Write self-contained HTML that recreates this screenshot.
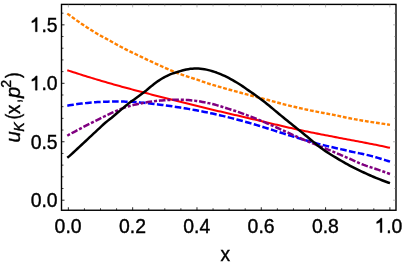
<!DOCTYPE html>
<html><head><meta charset="utf-8"><style>
html,body{margin:0;padding:0;background:#fff;}
svg{display:block;will-change:transform;font-family:"Liberation Sans",sans-serif;}
</style></head><body>
<svg width="404" height="266" viewBox="0 0 404 266">
<rect width="404" height="266" fill="#fff"/>
<g fill="none" stroke-linecap="butt" stroke-linejoin="round">
<path d="M67.29,13.63 L69.31,15.00 L71.32,16.50 L73.34,17.98 L75.36,19.45 L77.37,20.89 L79.39,22.30 L81.41,23.69 L83.42,25.05 L85.44,26.38 L87.46,27.69 L89.48,29.00 L91.49,30.29 L93.51,31.56 L95.53,32.80 L97.54,34.00 L99.56,35.15 L101.58,36.26 L103.59,37.35 L105.61,38.42 L107.63,39.50 L109.64,40.60 L111.66,41.72 L113.68,42.85 L115.70,43.97 L117.71,45.08 L119.73,46.18 L121.75,47.27 L123.76,48.35 L125.78,49.38 L127.80,50.39 L129.81,51.37 L131.83,52.34 L133.85,53.31 L135.86,54.28 L137.88,55.26 L139.90,56.23 L141.92,57.20 L143.93,58.15 L145.95,59.11 L147.97,60.06 L149.98,61.01 L152.00,61.95 L154.02,62.88 L156.03,63.80 L158.05,64.71 L160.07,65.62 L162.08,66.51 L164.10,67.41 L166.12,68.29 L168.14,69.17 L170.15,70.03 L172.17,70.88 L174.19,71.72 L176.20,72.53 L178.22,73.33 L180.24,74.09 L182.25,74.82 L184.27,75.51 L186.29,76.17 L188.30,76.82 L190.32,77.46 L192.34,78.10 L194.35,78.75 L196.37,79.42 L198.39,80.11 L200.41,80.81 L202.42,81.51 L204.44,82.22 L206.46,82.91 L208.47,83.59 L210.49,84.24 L212.51,84.86 L214.52,85.46 L216.54,86.05 L218.56,86.63 L220.57,87.21 L222.59,87.78 L224.61,88.35 L226.63,88.91 L228.64,89.47 L230.66,90.03 L232.68,90.58 L234.69,91.13 L236.71,91.68 L238.73,92.23 L240.74,92.78 L242.76,93.33 L244.78,93.87 L246.79,94.42 L248.81,94.96 L250.83,95.49 L252.85,96.00 L254.86,96.52 L256.88,97.02 L258.90,97.54 L260.91,98.06 L262.93,98.59 L264.95,99.13 L266.96,99.68 L268.98,100.24 L271.00,100.80 L273.01,101.36 L275.03,101.91 L277.05,102.47 L279.07,103.02 L281.08,103.56 L283.10,104.09 L285.12,104.61 L287.13,105.11 L289.15,105.61 L291.17,106.09 L293.18,106.57 L295.20,107.04 L297.22,107.51 L299.23,107.98 L301.25,108.44 L303.27,108.89 L305.29,109.32 L307.30,109.75 L309.32,110.18 L311.34,110.59 L313.35,111.00 L315.37,111.41 L317.39,111.81 L319.40,112.20 L321.42,112.58 L323.44,112.96 L325.45,113.34 L327.47,113.71 L329.49,114.08 L331.51,114.45 L333.52,114.84 L335.54,115.26 L337.56,115.69 L339.57,116.14 L341.59,116.59 L343.61,117.04 L345.62,117.47 L347.64,117.88 L349.66,118.26 L351.67,118.65 L353.69,119.03 L355.71,119.40 L357.73,119.77 L359.74,120.12 L361.76,120.47 L363.78,120.80 L365.79,121.12 L367.81,121.44 L369.83,121.76 L371.84,122.07 L373.86,122.39 L375.88,122.70 L377.89,123.01 L379.91,123.32 L381.93,123.63 L383.95,123.93 L385.96,124.23 L387.98,124.53 L390.00,124.82" stroke="#ff8000" stroke-width="2.4" stroke-dasharray="3.8 1.8"/>
<path d="M67.29,70.21 L69.31,70.87 L71.32,71.54 L73.34,72.19 L75.36,72.84 L77.37,73.49 L79.39,74.13 L81.41,74.77 L83.42,75.40 L85.44,76.03 L87.46,76.66 L89.48,77.28 L91.49,77.89 L93.51,78.50 L95.53,79.11 L97.54,79.71 L99.56,80.31 L101.58,80.91 L103.59,81.50 L105.61,82.08 L107.63,82.67 L109.64,83.24 L111.66,83.82 L113.68,84.39 L115.70,84.96 L117.71,85.52 L119.73,86.08 L121.75,86.64 L123.76,87.20 L125.78,87.75 L127.80,88.29 L129.81,88.84 L131.83,89.38 L133.85,89.92 L135.86,90.46 L137.88,90.99 L139.90,91.52 L141.92,92.05 L143.93,92.57 L145.95,93.09 L147.97,93.61 L149.98,94.13 L152.00,94.65 L154.02,95.16 L156.03,95.67 L158.05,96.18 L160.07,96.68 L162.08,97.19 L164.10,97.69 L166.12,98.19 L168.14,98.69 L170.15,99.20 L172.17,99.70 L174.19,100.21 L176.20,100.72 L178.22,101.23 L180.24,101.74 L182.25,102.25 L184.27,102.75 L186.29,103.26 L188.30,103.77 L190.32,104.28 L192.34,104.78 L194.35,105.29 L196.37,105.79 L198.39,106.29 L200.41,106.79 L202.42,107.28 L204.44,107.78 L206.46,108.27 L208.47,108.75 L210.49,109.23 L212.51,109.71 L214.52,110.18 L216.54,110.66 L218.56,111.13 L220.57,111.60 L222.59,112.07 L224.61,112.54 L226.63,113.01 L228.64,113.48 L230.66,113.95 L232.68,114.42 L234.69,114.89 L236.71,115.36 L238.73,115.83 L240.74,116.30 L242.76,116.77 L244.78,117.24 L246.79,117.71 L248.81,118.18 L250.83,118.66 L252.85,119.13 L254.86,119.61 L256.88,120.08 L258.90,120.56 L260.91,121.04 L262.93,121.52 L264.95,122.00 L266.96,122.48 L268.98,122.95 L271.00,123.43 L273.01,123.91 L275.03,124.38 L277.05,124.86 L279.07,125.33 L281.08,125.80 L283.10,126.27 L285.12,126.73 L287.13,127.19 L289.15,127.65 L291.17,128.11 L293.18,128.56 L295.20,129.01 L297.22,129.45 L299.23,129.89 L301.25,130.32 L303.27,130.75 L305.29,131.18 L307.30,131.60 L309.32,132.01 L311.34,132.42 L313.35,132.83 L315.37,133.23 L317.39,133.63 L319.40,134.03 L321.42,134.42 L323.44,134.81 L325.45,135.20 L327.47,135.59 L329.49,135.98 L331.51,136.36 L333.52,136.75 L335.54,137.13 L337.56,137.51 L339.57,137.89 L341.59,138.27 L343.61,138.65 L345.62,139.03 L347.64,139.41 L349.66,139.79 L351.67,140.17 L353.69,140.55 L355.71,140.93 L357.73,141.31 L359.74,141.70 L361.76,142.09 L363.78,142.48 L365.79,142.87 L367.81,143.26 L369.83,143.66 L371.84,144.06 L373.86,144.46 L375.88,144.87 L377.89,145.28 L379.91,145.70 L381.93,146.12 L383.95,146.54 L385.96,146.97 L387.98,147.40 L390.00,147.84" stroke="#ff0000" stroke-width="2.05"/>
<path d="M67.29,105.70 L69.31,105.35 L71.32,105.01 L73.34,104.70 L75.36,104.40 L77.37,104.11 L79.39,103.84 L81.41,103.59 L83.42,103.35 L85.44,103.13 L87.46,102.92 L89.48,102.73 L91.49,102.55 L93.51,102.39 L95.53,102.24 L97.54,102.11 L99.56,101.99 L101.58,101.88 L103.59,101.79 L105.61,101.71 L107.63,101.65 L109.64,101.60 L111.66,101.56 L113.68,101.53 L115.70,101.52 L117.71,101.52 L119.73,101.53 L121.75,101.56 L123.76,101.59 L125.78,101.64 L127.80,101.70 L129.81,101.77 L131.83,101.85 L133.85,101.95 L135.86,102.08 L137.88,102.25 L139.90,102.43 L141.92,102.64 L143.93,102.85 L145.95,103.07 L147.97,103.28 L149.98,103.49 L152.00,103.70 L154.02,103.92 L156.03,104.15 L158.05,104.39 L160.07,104.64 L162.08,104.90 L164.10,105.16 L166.12,105.43 L168.14,105.71 L170.15,106.00 L172.17,106.29 L174.19,106.59 L176.20,106.90 L178.22,107.22 L180.24,107.54 L182.25,107.86 L184.27,108.20 L186.29,108.54 L188.30,108.89 L190.32,109.24 L192.34,109.60 L194.35,109.97 L196.37,110.34 L198.39,110.72 L200.41,111.10 L202.42,111.50 L204.44,111.90 L206.46,112.31 L208.47,112.73 L210.49,113.16 L212.51,113.59 L214.52,114.03 L216.54,114.48 L218.56,114.94 L220.57,115.41 L222.59,115.88 L224.61,116.37 L226.63,116.86 L228.64,117.35 L230.66,117.86 L232.68,118.37 L234.69,118.89 L236.71,119.42 L238.73,119.96 L240.74,120.50 L242.76,121.05 L244.78,121.61 L246.79,122.18 L248.81,122.75 L250.83,123.33 L252.85,123.92 L254.86,124.52 L256.88,125.12 L258.90,125.74 L260.91,126.35 L262.93,126.98 L264.95,127.61 L266.96,128.25 L268.98,128.89 L271.00,129.53 L273.01,130.18 L275.03,130.82 L277.05,131.46 L279.07,132.11 L281.08,132.75 L283.10,133.39 L285.12,134.03 L287.13,134.66 L289.15,135.29 L291.17,135.92 L293.18,136.54 L295.20,137.15 L297.22,137.75 L299.23,138.35 L301.25,138.94 L303.27,139.54 L305.29,140.13 L307.30,140.72 L309.32,141.31 L311.34,141.90 L313.35,142.47 L315.37,143.04 L317.39,143.59 L319.40,144.13 L321.42,144.65 L323.44,145.15 L325.45,145.63 L327.47,146.10 L329.49,146.57 L331.51,147.04 L333.52,147.50 L335.54,147.97 L337.56,148.43 L339.57,148.89 L341.59,149.35 L343.61,149.81 L345.62,150.27 L347.64,150.74 L349.66,151.21 L351.67,151.67 L353.69,152.11 L355.71,152.54 L357.73,152.96 L359.74,153.38 L361.76,153.80 L363.78,154.22 L365.79,154.66 L367.81,155.12 L369.83,155.61 L371.84,156.12 L373.86,156.66 L375.88,157.24 L377.89,157.83 L379.91,158.43 L381.93,159.05 L383.95,159.69 L385.96,160.34 L387.98,161.00 L390.00,161.69" stroke="#0000ff" stroke-width="2.5" stroke-dasharray="6.6 2.4"/>
<path d="M67.29,135.71 L69.31,134.46 L71.32,133.40 L73.34,132.34 L75.36,131.28 L77.37,130.21 L79.39,129.12 L81.41,128.03 L83.42,126.97 L85.44,125.93 L87.46,124.89 L89.48,123.87 L91.49,122.85 L93.51,121.84 L95.53,120.81 L97.54,119.79 L99.56,118.77 L101.58,117.75 L103.59,116.75 L105.61,115.77 L107.63,114.80 L109.64,113.87 L111.66,112.96 L113.68,112.08 L115.70,111.20 L117.71,110.33 L119.73,109.48 L121.75,108.67 L123.76,107.90 L125.78,107.19 L127.80,106.54 L129.81,105.96 L131.83,105.42 L133.85,104.91 L135.86,104.44 L137.88,103.99 L139.90,103.57 L141.92,103.17 L143.93,102.78 L145.95,102.41 L147.97,102.06 L149.98,101.74 L152.00,101.45 L154.02,101.18 L156.03,100.94 L158.05,100.72 L160.07,100.54 L162.08,100.38 L164.10,100.23 L166.12,100.10 L168.14,99.98 L170.15,99.88 L172.17,99.80 L174.19,99.74 L176.20,99.71 L178.22,99.72 L180.24,99.75 L182.25,99.79 L184.27,99.85 L186.29,99.94 L188.30,100.06 L190.32,100.21 L192.34,100.39 L194.35,100.62 L196.37,100.90 L198.39,101.21 L200.41,101.55 L202.42,101.91 L204.44,102.29 L206.46,102.70 L208.47,103.14 L210.49,103.59 L212.51,104.07 L214.52,104.58 L216.54,105.13 L218.56,105.71 L220.57,106.31 L222.59,106.94 L224.61,107.58 L226.63,108.22 L228.64,108.86 L230.66,109.50 L232.68,110.14 L234.69,110.80 L236.71,111.47 L238.73,112.15 L240.74,112.86 L242.76,113.57 L244.78,114.31 L246.79,115.06 L248.81,115.83 L250.83,116.61 L252.85,117.40 L254.86,118.21 L256.88,119.03 L258.90,119.86 L260.91,120.70 L262.93,121.56 L264.95,122.42 L266.96,123.29 L268.98,124.17 L271.00,125.06 L273.01,125.95 L275.03,126.85 L277.05,127.75 L279.07,128.65 L281.08,129.56 L283.10,130.47 L285.12,131.39 L287.13,132.30 L289.15,133.21 L291.17,134.13 L293.18,135.03 L295.20,135.94 L297.22,136.85 L299.23,137.74 L301.25,138.63 L303.27,139.50 L305.29,140.35 L307.30,141.19 L309.32,142.01 L311.34,142.82 L313.35,143.62 L315.37,144.42 L317.39,145.22 L319.40,146.03 L321.42,146.84 L323.44,147.66 L325.45,148.49 L327.47,149.33 L329.49,150.18 L331.51,151.03 L333.52,151.88 L335.54,152.74 L337.56,153.60 L339.57,154.46 L341.59,155.32 L343.61,156.18 L345.62,157.04 L347.64,157.90 L349.66,158.75 L351.67,159.62 L353.69,160.53 L355.71,161.45 L357.73,162.37 L359.74,163.27 L361.76,164.13 L363.78,164.94 L365.79,165.67 L367.81,166.34 L369.83,166.98 L371.84,167.61 L373.86,168.27 L375.88,168.97 L377.89,169.67 L379.91,170.37 L381.93,171.08 L383.95,171.80 L385.96,172.52 L387.98,173.25 L390.00,173.99" stroke="#800080" stroke-width="2.5" stroke-dasharray="3.07 1.88 6.6 1.88"/>
<path d="M67.29,157.76 L69.31,156.14 L71.32,154.33 L73.34,152.49 L75.36,150.64 L77.37,148.77 L79.39,146.90 L81.41,145.04 L83.42,143.17 L85.44,141.28 L87.46,139.37 L89.48,137.46 L91.49,135.56 L93.51,133.69 L95.53,131.83 L97.54,129.95 L99.56,128.06 L101.58,126.17 L103.59,124.28 L105.61,122.50 L107.63,120.86 L109.64,119.28 L111.66,117.69 L113.68,116.01 L115.70,114.28 L117.71,112.55 L119.73,110.83 L121.75,109.12 L123.76,107.44 L125.78,105.77 L127.80,104.13 L129.81,102.56 L131.83,101.10 L133.85,99.68 L135.86,98.23 L137.88,96.72 L139.90,95.22 L141.92,93.73 L143.93,92.22 L145.95,90.66 L147.97,89.00 L149.98,87.31 L152.00,85.64 L154.02,84.07 L156.03,82.56 L158.05,81.10 L160.07,79.74 L162.08,78.49 L164.10,77.34 L166.12,76.26 L168.14,75.28 L170.15,74.44 L172.17,73.69 L174.19,73.01 L176.20,72.36 L178.22,71.74 L180.24,71.14 L182.25,70.57 L184.27,70.04 L186.29,69.56 L188.30,69.16 L190.32,68.86 L192.34,68.66 L194.35,68.54 L196.37,68.50 L198.39,68.55 L200.41,68.69 L202.42,68.93 L204.44,69.24 L206.46,69.64 L208.47,70.10 L210.49,70.63 L212.51,71.21 L214.52,71.85 L216.54,72.55 L218.56,73.32 L220.57,74.15 L222.59,75.03 L224.61,75.97 L226.63,76.95 L228.64,77.98 L230.66,79.04 L232.68,80.15 L234.69,81.32 L236.71,82.52 L238.73,83.78 L240.74,85.07 L242.76,86.41 L244.78,87.78 L246.79,89.20 L248.81,90.61 L250.83,92.01 L252.85,93.40 L254.86,94.79 L256.88,96.21 L258.90,97.65 L260.91,99.14 L262.93,100.69 L264.95,102.30 L266.96,103.93 L268.98,105.58 L271.00,107.24 L273.01,108.91 L275.03,110.59 L277.05,112.27 L279.07,113.95 L281.08,115.63 L283.10,117.29 L285.12,118.94 L287.13,120.58 L289.15,122.20 L291.17,123.81 L293.18,125.42 L295.20,127.03 L297.22,128.62 L299.23,130.23 L301.25,131.88 L303.27,133.55 L305.29,135.20 L307.30,136.84 L309.32,138.50 L311.34,140.19 L313.35,141.88 L315.37,143.55 L317.39,145.19 L319.40,146.78 L321.42,148.31 L323.44,149.75 L325.45,151.09 L327.47,152.39 L329.49,153.68 L331.51,154.95 L333.52,156.19 L335.54,157.43 L337.56,158.64 L339.57,159.84 L341.59,161.02 L343.61,162.18 L345.62,163.33 L347.64,164.46 L349.66,165.58 L351.67,166.66 L353.69,167.70 L355.71,168.70 L357.73,169.67 L359.74,170.62 L361.76,171.56 L363.78,172.49 L365.79,173.42 L367.81,174.34 L369.83,175.24 L371.84,176.13 L373.86,176.99 L375.88,177.83 L377.89,178.65 L379.91,179.46 L381.93,180.24 L383.95,181.00 L385.96,181.75 L387.98,182.47 L390.00,183.19" stroke="#000" stroke-width="2.5"/>
</g>
<rect x="61.5" y="4.4" width="334.5" height="205.85" fill="none" stroke="#000" stroke-width="1.4"/>
<path d="M68.35,210.25 v-3.0 M132.66,210.25 v-3.0 M196.97,210.25 v-3.0 M261.28,210.25 v-3.0 M325.59,210.25 v-3.0 M389.90,210.25 v-3.0 M61.5,200.20 h3.0 M61.5,141.75 h3.0 M61.5,83.30 h3.0 M61.5,24.85 h3.0" stroke="#000" stroke-width="0.85" fill="none"/>
<path d="M84.43,210.25 v-2.0 M100.50,210.25 v-2.0 M116.58,210.25 v-2.0 M148.74,210.25 v-2.0 M164.81,210.25 v-2.0 M180.89,210.25 v-2.0 M213.05,210.25 v-2.0 M229.12,210.25 v-2.0 M245.20,210.25 v-2.0 M277.36,210.25 v-2.0 M293.44,210.25 v-2.0 M309.51,210.25 v-2.0 M341.67,210.25 v-2.0 M357.75,210.25 v-2.0 M373.82,210.25 v-2.0 M61.5,188.51 h2.0 M61.5,176.82 h2.0 M61.5,165.13 h2.0 M61.5,153.44 h2.0 M61.5,130.06 h2.0 M61.5,118.37 h2.0 M61.5,106.68 h2.0 M61.5,94.99 h2.0 M61.5,71.61 h2.0 M61.5,59.92 h2.0 M61.5,48.23 h2.0 M61.5,36.54 h2.0 M61.5,13.16 h2.0" stroke="#000" stroke-width="0.75" fill="none"/>
<path d="M68.35,4.4 v3.0 M84.43,4.4 v2.0 M100.50,4.4 v2.0 M116.58,4.4 v2.0 M132.66,4.4 v3.0 M148.74,4.4 v2.0 M164.81,4.4 v2.0 M180.89,4.4 v2.0 M196.97,4.4 v3.0 M213.05,4.4 v2.0 M229.12,4.4 v2.0 M245.20,4.4 v2.0 M261.28,4.4 v3.0 M277.36,4.4 v2.0 M293.44,4.4 v2.0 M309.51,4.4 v2.0 M325.59,4.4 v3.0 M341.67,4.4 v2.0 M357.75,4.4 v2.0 M373.82,4.4 v2.0 M389.90,4.4 v3.0 M396.0,200.20 h-3.0 M396.0,188.51 h-2.0 M396.0,176.82 h-2.0 M396.0,165.13 h-2.0 M396.0,153.44 h-2.0 M396.0,141.75 h-3.0 M396.0,130.06 h-2.0 M396.0,118.37 h-2.0 M396.0,106.68 h-2.0 M396.0,94.99 h-2.0 M396.0,83.30 h-3.0 M396.0,71.61 h-2.0 M396.0,59.92 h-2.0 M396.0,48.23 h-2.0 M396.0,36.54 h-2.0 M396.0,24.85 h-3.0 M396.0,13.16 h-2.0" stroke="#777" stroke-width="0.5" fill="none"/>
<g font-size="20.2" fill="#000" stroke="#000" stroke-width="0.4"><text transform="translate(68.1,232.7) scale(0.96,1)" text-anchor="middle">0.0</text><text transform="translate(132.5,232.7) scale(0.96,1)" text-anchor="middle">0.2</text><text transform="translate(196.8,232.7) scale(0.96,1)" text-anchor="middle">0.4</text><text transform="translate(261.1,232.7) scale(0.96,1)" text-anchor="middle">0.6</text><text transform="translate(325.4,232.7) scale(0.96,1)" text-anchor="middle">0.8</text><path transform="translate(380.20,232.45)" d="M1.8,0 L0,0 L0,-10.5 Q-1.7,-9.5 -3.5,-9.0 L-3.5,-10.6 Q-0.9,-11.8 0.55,-14.25 L1.8,-14.25 Z"/><text transform="translate(386.20,232.7) scale(0.96,1)">.0</text><text transform="translate(57.6,207.3) scale(0.96,1)" text-anchor="end">0.0</text><text transform="translate(57.6,148.8) scale(0.96,1)" text-anchor="end">0.5</text><path transform="translate(35.37,90.15)" d="M1.8,0 L0,0 L0,-10.5 Q-1.7,-9.5 -3.5,-9.0 L-3.5,-10.6 Q-0.9,-11.8 0.55,-14.25 L1.8,-14.25 Z"/><text transform="translate(57.6,90.4) scale(0.96,1)" text-anchor="end">.0</text><path transform="translate(35.37,31.70)" d="M1.8,0 L0,0 L0,-10.5 Q-1.7,-9.5 -3.5,-9.0 L-3.5,-10.6 Q-0.9,-11.8 0.55,-14.25 L1.8,-14.25 Z"/><text transform="translate(57.6,31.9) scale(0.96,1)" text-anchor="end">.5</text></g>
<text transform="translate(225.4,260.8) scale(0.95,0.98)" font-size="20.2" text-anchor="middle" fill="#000" stroke="#000" stroke-width="0.4">x</text>
<g fill="#000" stroke="#000" stroke-width="0.4"><text transform="translate(20.25,142.62) rotate(-90)" font-size="20.3" font-style="italic">u</text><text transform="translate(23.55,131.74) rotate(-90)" font-size="14.2" font-style="italic">K</text><text transform="translate(20.25,119.25) rotate(-90) scale(0.8,1)" font-size="20.3">(</text><text transform="translate(20.25,113.94) rotate(-90) scale(0.92,1)" font-size="20.3">x</text><text transform="translate(20.25,102.98) rotate(-90) scale(0.75,1)" font-size="20.3">,</text><text transform="translate(20.25,97.90) rotate(-90)" font-size="20.3" font-style="italic">p</text><text transform="translate(10.75,87.68) rotate(-90)" font-size="14.2">2</text><text transform="translate(20.25,78.02) rotate(-90) scale(0.82,1)" font-size="20.3">)</text></g>
</svg>
</body></html>
